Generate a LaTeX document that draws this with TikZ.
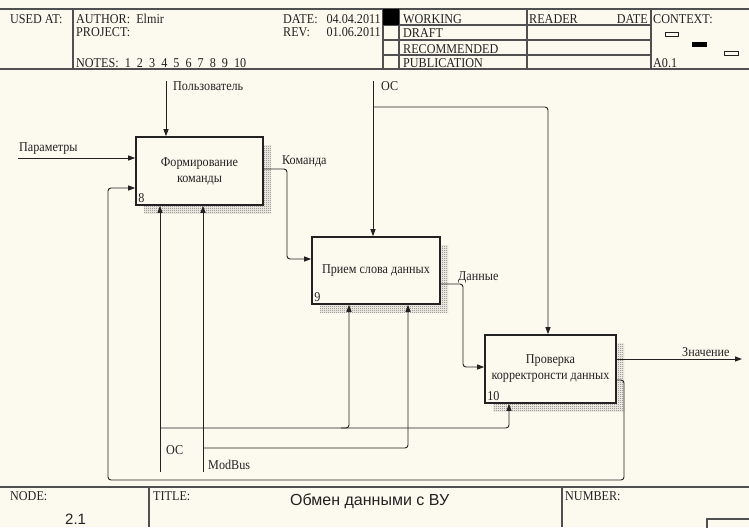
\documentclass[tikz,border=0pt]{standalone}
\usepackage{fontspec}
\setmainfont{Liberation Serif}[FakeStretch=0.9]
\newfontfamily\sansf{Liberation Sans}
\usetikzlibrary{arrows.meta,patterns,shadows}
\definecolor{bgc}{HTML}{FCF9EE}
\definecolor{ln}{HTML}{222222}
\definecolor{hln}{HTML}{505050}
\pgfdeclarepatternformonly{finechecker}{\pgfpointorigin}{\pgfqpoint{2pt}{2pt}}{\pgfqpoint{2pt}{2pt}}{%
  \pgfpathrectangle{\pgfpointorigin}{\pgfqpoint{1pt}{1pt}}%
  \pgfpathrectangle{\pgfqpoint{1pt}{1pt}}{\pgfqpoint{1pt}{1pt}}%
  \pgfusepath{fill}}
\begin{document}
\begin{tikzpicture}[x=1pt,y=-1pt,
  every node/.style={font=\fontsize{13.5}{16}\selectfont, inner sep=0pt, text=ln},
  lbl/.style={anchor=base west},
  fbox/.style={draw=ln, line width=1.6pt, fill=bgc, align=center,
    general shadow={shadow xshift=8pt, shadow yshift=-8pt, pattern=finechecker, pattern color=gray!85!black}},
  conn/.style={draw=ln, line width=0.9pt, rounded corners=3pt},
  arr/.style={conn, -{Triangle[length=7pt,width=5pt]}},
  hl/.style={draw=hln, line width=1.2pt}
]
\fill[bgc] (0,0) rectangle (749,527);
\useasboundingbox (0,0) rectangle (749,527);

% ---- header ----
\draw[hl] (0,9) -- (749,9);
\draw[hl] (0,69) -- (749,69);
\draw[hl] (73,9) -- (73,69);
\draw[hl] (383,9) -- (383,69);
\draw[hl] (399,9) -- (399,69);
\draw[hl] (527,9) -- (527,69);
\draw[hl] (651,9) -- (651,69);
\draw[hl] (383,25) -- (651,25);
\draw[hl] (383,40) -- (651,40);
\draw[hl] (383,55) -- (651,55);
\fill[black] (383,9) rectangle (399,25);
\draw[ln, line width=0.9pt, fill=bgc] (665,32) rectangle (678,36);
\fill[black] (692,42) rectangle (707,47);
\draw[ln, line width=0.9pt, fill=bgc] (724,51) rectangle (738,55);

\node[lbl] (usedat) at (10,23.5) {USED AT:};
\node[lbl] (author) at (76,23.5) {AUTHOR:\ \ Elmir};
\node[lbl] (project) at (76,37) {PROJECT:};
\node[lbl] (notes) at (76,67.5) {NOTES:\ \ 1\ \ 2\ \ 3\ \ 4\ \ 5\ \ 6\ \ 7\ \ 8\ \ 9\ \ 10};
\node[lbl] (date) at (283,23.5) {DATE:};
\node[anchor=base east] (dateval) at (381,23.5) {04.04.2011};
\node[lbl] (rev) at (283,37) {REV:};
\node[anchor=base east] (revval) at (381,37) {01.06.2011};
\node[lbl] (working) at (403,23.5) {WORKING};
\node[lbl] (draft) at (403,37.5) {DRAFT};
\node[lbl] (recommended) at (403,53) {RECOMMENDED};
\node[lbl] (publication) at (403,67.5) {PUBLICATION};
\node[lbl] (reader) at (529,23.5) {READER};
\node[anchor=base east] (rdate) at (648,23.5) {DATE};
\node[lbl] (context) at (653,23.5) {CONTEXT:};
\node[lbl] (a01) at (653,67.5) {A0.1};

% ---- footer ----
\draw[hl] (0,487) -- (749,487);
\draw[hl] (149,487) -- (149,527);
\draw[hl] (562,487) -- (562,527);
\draw[hl] (707,519) rectangle (752,530);
\node[lbl] (node) at (10,500) {NODE:};
\node[lbl] (title) at (153,500) {TITLE:};
\node[lbl] (number) at (565,500) {NUMBER:};
\node[lbl, font=\sansf\fontsize{16}{18}\selectfont] (titletext) at (290,505) {Обмен данными с ВУ};
\node[lbl, font=\sansf\fontsize{15}{18}\selectfont] (nodenum) at (65,524) {2.1};

% ---- boxes ----
\node[fbox, minimum width=127pt, minimum height=68pt] (b1) at (199.5,171) {Формирование\\команды};
\node[fbox, minimum width=128pt, minimum height=67pt] (b2) at (376,270.5) {Прием слова данных};
\node[fbox, minimum width=131pt, minimum height=68pt] (b3) at (550.5,369) {Проверка\\корректронсти данных};
\node[lbl] (n8) at ([xshift=3pt,yshift=3pt]b1.south west) {8};
\node[lbl] (n9) at ([xshift=3pt,yshift=3pt]b2.south west) {9};
\node[lbl] (n10) at ([xshift=3pt,yshift=3pt]b3.south west) {10};

% ---- connectors ----
\coordinate (pu) at (166,81);
\draw[arr] (pu) -- (pu |- b1.north);
\node[lbl] (lpu) at (173,90) {Пользователь};

\coordinate (pa) at (18,158);
\draw[arr] (pa) -- (pa -| b1.west);
\node[lbl] (lpa) at (19,151) {Параметры};

\coordinate (k1) at (287,169);
\coordinate (k2) at (287,259);
\draw[arr] (b1.east |- k1) -- (k1) -- (k2) -- (b2.west |- k2);
\node[lbl] (lk) at (282,164) {Команда};

\coordinate (oct) at (373,81);
\draw[arr] (oct) -- (oct |- b2.north);
\coordinate (ocj) at (373,107);
\coordinate (ocr) at (548,107);
\draw[arr] (ocj) -- (ocr) -- (ocr |- b3.north);
\node[lbl] (loct) at (381,90) {ОС};

\coordinate (d1) at (463,284);
\coordinate (d2) at (463,367);
\draw[arr] (b2.east |- d1) -- (d1) -- (d2) -- (b3.west |- d2);
\node[lbl] (ld) at (458,280) {Данные};

\coordinate (z) at (742,359);
\draw[arr] (b3.east |- z) -- (z);
\node[lbl] (lz) at (682,356) {Значение};

\coordinate (fb1) at (624,380);
\coordinate (fb2) at (624,480);
\coordinate (fb3) at (108,480);
\coordinate (fb4) at (108,188);
\draw[arr] (b3.east |- fb1) -- (fb1) -- (fb2) -- (fb3) -- (fb4) -- (b1.west |- fb4);

\coordinate (ocb) at (160,472);
\coordinate (ocbj) at (160,428);
\coordinate (ocb2) at (349,428);
\coordinate (ocb3) at (509,428);
\draw[arr] (ocb) -- (ocb |- b1.south);
\draw[arr] (ocbj) -- (ocb3) -- (ocb3 |- b3.south);
\draw[arr] ([xshift=-8pt]ocb2) -- (ocb2) -- (ocb2 |- b2.south);
\node[lbl] (locb) at (166,454) {ОС};

\coordinate (mb) at (203,472);
\coordinate (mbj) at (203,448);
\coordinate (mb2) at (408,448);
\draw[arr] (mb) -- (mb |- b1.south);
\draw[arr] (mbj) -- (mb2) -- (mb2 |- b2.south);
\node[lbl] (lmb) at (208,469) {ModBus};
\end{tikzpicture}
\end{document}
